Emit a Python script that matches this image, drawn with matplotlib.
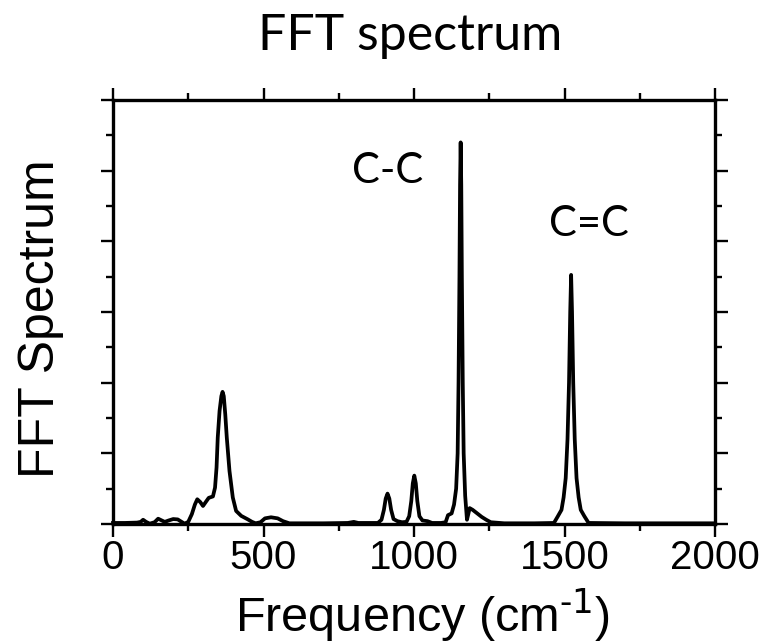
import matplotlib
matplotlib.use("Agg")
import matplotlib.pyplot as plt

freq = [0, 40, 80, 92, 100, 110, 122, 138, 150, 162, 172, 185, 200, 215, 228, 238,
        250, 262, 272, 280, 290, 299, 308, 318, 332, 339, 344, 348, 354, 360, 364,
        368, 373, 378, 387, 398, 409, 426, 448, 462, 474, 490, 505, 525, 547, 565,
        586, 620, 700, 780, 800, 815, 880, 892, 900, 906, 912, 918, 924, 932, 945,
        960, 975, 984, 991, 996, 1001, 1006, 1011, 1018, 1028, 1045, 1060, 1090,
        1105, 1113, 1125, 1133, 1140, 1145, 1148, 1151, 1153, 1155, 1157, 1159,
        1162, 1165, 1170, 1176, 1185, 1195, 1210, 1225, 1240, 1255, 1300, 1400,
        1465, 1478, 1490, 1497, 1504, 1510, 1515, 1519, 1522, 1525, 1529, 1534,
        1540, 1547, 1554, 1566, 1580, 1700, 2000]
amp = [0.03, 0.03, 0.04, 0.06, 0.12, 0.06, 0.01, 0.05, 0.15, 0.10, 0.06, 0.10, 0.14,
       0.13, 0.06, 0.01, 0.06, 0.28, 0.55, 0.70, 0.62, 0.51, 0.62, 0.74, 0.78, 1.03,
       1.6, 2.45, 3.2, 3.62, 3.74, 3.62, 3.1, 2.45, 1.5, 0.75, 0.37, 0.23, 0.13, 0.06,
       0.02, 0.05, 0.16, 0.19, 0.16, 0.08, 0.02, 0.02, 0.02, 0.03, 0.06, 0.03, 0.03,
       0.12, 0.40, 0.72, 0.86, 0.72, 0.40, 0.14, 0.08, 0.05, 0.06, 0.22, 0.65, 1.15,
       1.37, 1.15, 0.65, 0.22, 0.10, 0.08, 0.03, 0.03, 0.05, 0.25, 0.30, 0.55, 1.0,
       2.0, 4.0, 7.0, 9.6, 10.8, 9.6, 7.0, 4.0, 2.0, 0.8, 0.12, 0.45, 0.40, 0.30,
       0.20, 0.12, 0.05, 0.02, 0.02, 0.03, 0.22, 0.40, 0.75, 1.3, 2.4, 4.0, 6.0,
       7.05, 6.0, 4.0, 2.4, 1.3, 0.75, 0.40, 0.22, 0.03, 0.02, 0.02]

xticks_major = [0, 500, 1000, 1500, 2000]
peak_labels = ["C-C", "C=C"]
peak_label_x = [912, 1582]
peak_label_y = [10.0, 8.5]

plt.rcParams['font.family'] = ['Liberation Sans', 'DejaVu Sans']
plt.rcParams['mathtext.default'] = 'regular'

fig = plt.figure(figsize=(7.66, 6.44), dpi=100)
ax = fig.add_axes([113/766, 1-524/644, 602/766, 424/644])

ax.plot(freq, amp, color='black', lw=2.7, solid_joinstyle='round', clip_on=False)

ax.set_xlim(0, 2000)
ax.set_ylim(0, 12)
ax.set_xticks(xticks_major)
ax.set_xticks(range(250, 2000, 500), minor=True)
ax.set_yticks(range(0, 13, 2))
ax.set_yticks(range(1, 12, 2), minor=True)
ax.set_yticklabels([])
ax.tick_params(which='both', direction='out', top=True, right=True, width=1.7)
ax.tick_params(which='major', length=9, pad=2, labelsize=29)
ax.tick_params(which='minor', length=5)
for s in ax.spines.values():
    s.set_linewidth(2.4)

ax.set_xlabel(r'Frequency (cm$^{\text{-1}}$)', fontsize=35, va='baseline')
ax.xaxis.set_label_coords(0.515, -0.255)
ax.set_ylabel('FFT Spectrum', fontsize=36, va='center')
ax.yaxis.set_label_coords(-0.12, 0.485)

for lab, lx, ly in zip(peak_labels, peak_label_x, peak_label_y):
    ax.text(lx, ly, lab, fontsize=30, family='Lato', ha='center', va='center')

fig.text(410/766, 1-36/644, 'FFT spectrum', fontsize=36, family='Lato',
         ha='center', va='center')

fig.savefig('out.png', dpi=100)
